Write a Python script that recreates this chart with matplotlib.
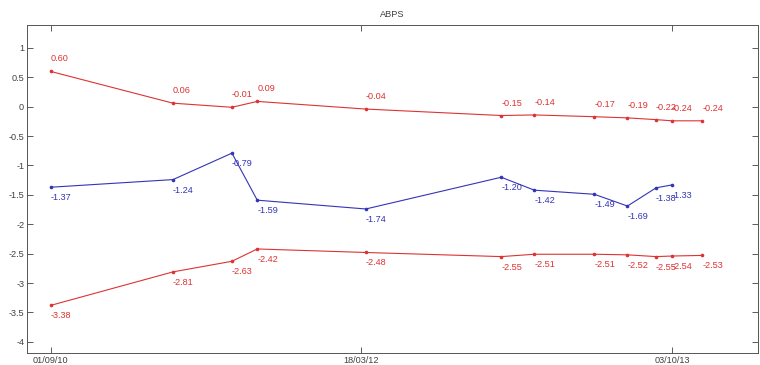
import numpy as np
import matplotlib
matplotlib.use("Agg")
import matplotlib.pyplot as plt
import matplotlib.dates as mdates

plt.rcParams['font.family'] = ['Liberation Sans', 'DejaVu Sans']

# observation dates
dates = np.array(['2010-09-01', '2011-04-11', '2011-07-27', '2011-09-11',
                  '2012-03-26', '2012-11-27', '2013-01-26', '2013-05-15',
                  '2013-07-14', '2013-09-04', '2013-10-03', '2013-11-27'],
                 dtype='datetime64[D]')

upper = [0.60, 0.06, -0.01, 0.09, -0.04, -0.15, -0.14, -0.17, -0.19, -0.22, -0.24, -0.24]
middle = [-1.37, -1.24, -0.79, -1.59, -1.74, -1.20, -1.42, -1.49, -1.69, -1.38, -1.33]
lower = [-3.38, -2.81, -2.63, -2.42, -2.48, -2.55, -2.51, -2.51, -2.52, -2.55, -2.54, -2.53]

tick_dates = np.array(['2010-09-01', '2012-03-18', '2013-10-03'], dtype='datetime64[D]')
yticks = [-4, -3.5, -3, -2.5, -2, -1.5, -1, -0.5, 0, 0.5, 1]

red = '#dd3333'
blue = '#3434b8'
txt = '#404040'
fs = 6.6

fig = plt.figure(figsize=(7.6, 3.65), dpi=100)
ax = fig.add_axes([27 / 760, 12 / 365, 731 / 760, 328 / 365])

x_up = dates.astype('O')
x_mid = dates[:len(middle)].astype('O')

ax.plot(x_up, upper, color=red, lw=0.8, marker='o', ms=1.6)
ax.plot(x_mid, middle, color=blue, lw=0.8, marker='o', ms=1.6)
ax.plot(x_up, lower, color=red, lw=0.8, marker='o', ms=1.6)

for d, v in zip(x_up, upper):
    ax.annotate(f"{v:.2f}", (d, v), xytext=(0, 8), textcoords='offset pixels',
                ha='left', va='bottom', color=red, fontsize=fs)
for d, v in zip(x_mid, middle):
    ax.annotate(f"{v:.2f}", (d, v), xytext=(0, -6), textcoords='offset pixels',
                ha='left', va='top', color=blue, fontsize=fs)
for d, v in zip(x_up, lower):
    ax.annotate(f"{v:.2f}", (d, v), xytext=(0, -6), textcoords='offset pixels',
                ha='left', va='top', color=red, fontsize=fs)

ax.set_xlim(np.datetime64('2010-07-20').astype('O'), np.datetime64('2014-03-08').astype('O'))
ax.set_ylim(-4.19, 1.39)
ax.set_xticks(tick_dates.astype('O'))
ax.xaxis.set_major_formatter(mdates.DateFormatter('%d/%m/%y'))
ax.set_yticks(yticks)
ax.set_yticklabels([f"{t:g}" for t in yticks])

ax.tick_params(direction='in', length=4, width=0.6, labelsize=fs, colors=txt,
               top=True, right=True, pad=2)
for s in ax.spines.values():
    s.set_linewidth(0.7)
    s.set_color('#555555')

ax.set_title('ABPS', fontsize=fs, color=txt, pad=6)

fig.savefig('out.png', dpi=100)
